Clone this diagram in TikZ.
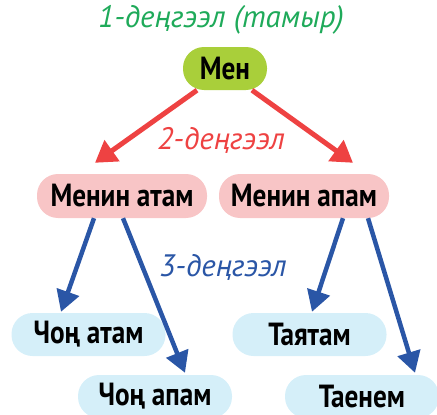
\documentclass[tikz,border=0pt]{standalone}
\usepackage{fontspec}
\setmainfont{PT Sans}
\newfontfamily\boxfont[FakeStretch=0.85]{PT Sans Bold}
\usetikzlibrary{arrows.meta,calc}
\definecolor{rootgreen}{HTML}{A9CF3A}
\definecolor{titlegreen}{HTML}{1FAA5A}
\definecolor{levred}{HTML}{EE4242}
\definecolor{pinkfill}{HTML}{F8C5C6}
\definecolor{levblue}{HTML}{2A56A6}
\definecolor{bluefill}{HTML}{D5EFF9}
\begin{document}
\begin{tikzpicture}[x=1pt,y=-1pt,
  pill/.style={rectangle, rounded corners=21pt, inner sep=0pt,
    minimum height=43pt, font=\boxfont\fontsize{32}{34}\selectfont, text=black},
  rootbox/.style={pill, fill=rootgreen, minimum width=84pt},
  parentbox/.style={pill, fill=pinkfill, minimum width=170pt, minimum height=44pt},
  grandbox/.style={pill, fill=bluefill, minimum width=154pt},
  levlabel/.style={font=\itshape\fontsize{31}{33}\selectfont, inner sep=0pt},
  redarrow/.style={draw=levred, line width=5pt, -{Triangle[length=21pt,width=25pt]}},
  bluearrow/.style={draw=levblue, line width=4.5pt, -{Triangle[length=21pt,width=23pt]}}]
\useasboundingbox (0,0) rectangle (437,415);

% tree boxes
\node[rootbox]   (men)     at (225,68.5) {Мен};
\node[parentbox] (atam)    at (122,196)  {Менин атам};
\node[parentbox] (apam)    at (304,196)  {Менин апам};
\node[grandbox]  (chatam)  at (88.5,334.5) {Чоң атам};
\node[grandbox]  (chapam)  at (155,396.5) {Чоң апам};
\node[grandbox]  (tayatam) at (309.5,334.5) {Таятам};
\node[grandbox]  (taenem)  at (362,396.5) {Таенем};

% level captions
\node[levlabel, text=titlegreen] (lev1) at (221,20)  {1-деңгээл (тамыр)};
\node[levlabel, text=levred]     (lev2) at (221,140) {2-деңгээл};
\node[levlabel, text=levblue]    (lev3) at (223,267) {3-деңгээл};

% root to parents
\draw[redarrow] ($(men.south)+(-28,0)$) -- ($(atam.north)+(-27,-11)$);
\draw[redarrow] ($(men.south)+(27,0)$)  -- ($(apam.north)+(49,-11)$);

% parents to grandparents
\draw[bluearrow] ($(atam.south)+(-28,0)$) -- ($(chatam.north)+(-27.5,-1)$);
\draw[bluearrow] ($(atam.south)+(1,0)$)   -- ($(chapam.north)+(30,-2)$);
\draw[bluearrow] ($(apam.south)+(39,0)$)  -- ($(tayatam.north)+(2.5,-1)$);
\draw[bluearrow] ($(apam.south)+(64,0)$)  -- ($(taenem.north)+(53,-2)$);
\end{tikzpicture}
\end{document}
